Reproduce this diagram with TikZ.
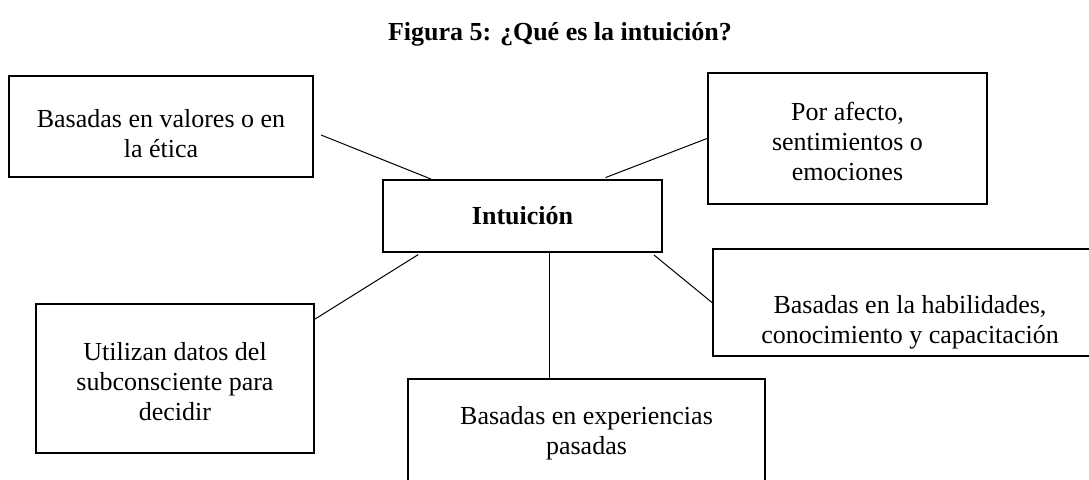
\documentclass[tikz,border=0pt]{standalone}
\usepackage{fontspec}
\setmainfont{Liberation Serif}

\begin{document}
\begin{tikzpicture}[x=1pt,y=-1pt,
  box node/.style={rectangle,draw,line width=2pt,inner sep=0pt},
  text node/.style={align=center,inner sep=0pt,font=\fontsize{26}{30}\selectfont},
  link/.style={line width=1pt}]

  \useasboundingbox (0,0) rectangle (1089,479);

  \node[anchor=base,font=\fontsize{26}{30}\selectfont\bfseries] (title) at (560,40) {Figura 5: ¿Qué es la intuición?};

  % boxes
  \node[box node,minimum width=279,minimum height=72,text node,font=\fontsize{26}{30}\selectfont\bfseries] (intu) at (522.5,216) {Intuición};
  \node[box node,minimum width=304,minimum height=101] (valores) at (161,126.5) {};
  \node[box node,minimum width=279,minimum height=131] (afecto) at (847.5,138.5) {};
  \node[box node,minimum width=394,minimum height=107] (habil) at (910,302.5) {};
  \node[box node,minimum width=278,minimum height=149] (utiliza) at (175,378.5) {};
  \node[box node,minimum width=357,minimum height=108] (pasadas) at (586.5,433) {};

  % texts
  \node[text node] (valores text) at (161,134) {Basadas en valores o en\\la ética};
  \node[text node] (afecto text) at (847.5,141) {Por afecto,\\sentimientos o\\emociones};
  \node[text node] (habil text) at (910,322) {Basadas en la habilidades,\\conocimiento y capacitación};
  \node[text node] (utiliza text) at (175,382) {Utilizan datos del\\subconsciente para\\decidir};
  \node[text node] (pasadas text) at (586.5,433) {Basadas en experiencias\\pasadas};

  % links
  \draw[link] (intu.158.7) -- ([xshift=7pt,yshift=-8.5pt]valores.east);
  \draw[link,shorten <=4pt] (intu.25) -- (afecto.west);
  \draw[link,shorten <=3pt] (intu.200.3) -- (utiliza.23);
  \draw[link,shorten <=3pt] (intu.-16.4) -- (habil.west);
  \draw[link] (intu.-54.7) -- (intu.-54.7 |- pasadas.north);

\end{tikzpicture}
\end{document}
